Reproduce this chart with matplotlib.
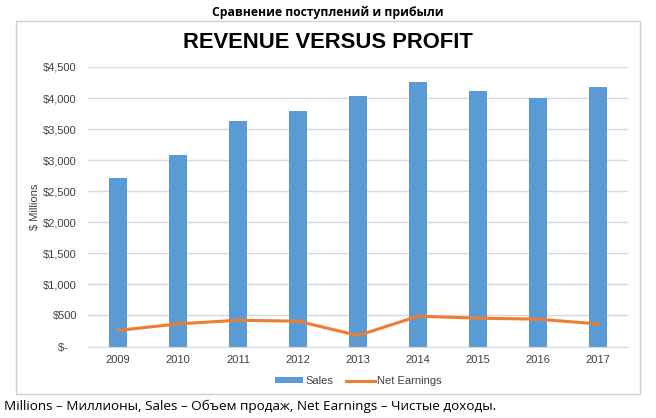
import matplotlib
matplotlib.use('Agg')
import matplotlib.pyplot as plt
from matplotlib.patches import Rectangle
from matplotlib.ticker import FuncFormatter
import numpy as np

# Data
years = ['2009', '2010', '2011', '2012', '2013', '2014', '2015', '2016', '2017']
sales = [2705, 3080, 3635, 3790, 4035, 4255, 4110, 4005, 4180]
net_earnings = [258, 364, 423, 407, 177, 488, 456, 440, 364]
y_ticks = [0, 500, 1000, 1500, 2000, 2500, 3000, 3500, 4000, 4500]

blue = '#5B9BD5'
orange = '#ED7D31'
grid = '#D9D9D9'
text_col = '#404040'

W, H = 656, 418
fig = plt.figure(figsize=(W / 100, H / 100), dpi=100)
fig.patch.set_facecolor('white')

# chart frame
fig.patches.append(Rectangle((16 / W, 1 - 394 / H), (639.5 - 16) / W, (394 - 20.5) / H,
                             transform=fig.transFigure, fill=False,
                             edgecolor='#D0D0D0', linewidth=1.0))

ax = fig.add_axes([88 / W, 1 - 346.5 / H, 540 / W, 279.5 / H])
x = np.arange(len(years))
bars = ax.bar(x, sales, width=0.3, color=blue, label='Sales', zorder=2)
line, = ax.plot(x, net_earnings, color=orange, linewidth=2.2, label='Net Earnings', zorder=3)

ax.set_xlim(-0.5, len(years) - 0.5)
ax.set_ylim(0, 4500)
ax.set_xticks(x)
ax.set_xticklabels(years)
ax.set_yticks(y_ticks)
ax.yaxis.set_major_formatter(FuncFormatter(lambda v, p: '$-   ' if v == 0 else '${:,.0f}'.format(v)))
ax.grid(axis='y', color=grid, linewidth=1.0, zorder=0)
ax.set_axisbelow(True)
for s in ['top', 'right', 'left']:
    ax.spines[s].set_visible(False)
ax.spines['bottom'].set_color(grid)
ax.tick_params(axis='both', length=0, labelsize=8, labelcolor=text_col)
ax.tick_params(axis='y', pad=8)
ax.tick_params(axis='x', pad=6)
for lab in ax.get_xticklabels() + ax.get_yticklabels():
    lab.set_family('Liberation Sans')
ax.set_ylabel('$ Millions', fontsize=8, family='Liberation Sans', color=text_col, labelpad=2)

leg = ax.legend([bars, line], ['Sales', 'Net Earnings'], loc='upper center',
                bbox_to_anchor=(0.5, -0.07), ncol=2, frameon=False,
                prop={'family': 'Liberation Sans', 'size': 8}, handlelength=2.6,
                handleheight=0.45, columnspacing=1.2, handletextpad=0.15)
for t in leg.get_texts():
    t.set_color(text_col)

fig.text(327.5 / W, 1 - 42 / H, 'REVENUE VERSUS PROFIT', ha='center', va='center',
         fontsize=15.8, fontweight='bold', family='Liberation Sans', color='black')
fig.text(328 / W, 1 - 12 / H, 'Сравнение поступлений и прибыли', ha='center', va='center',
         fontsize=8.7, fontweight='bold', family='Open Sans')
fig.text(4 / W, 1 - 406 / H, 'Millions – Миллионы, Sales – Объем продаж, Net Earnings – Чистые доходы.',
         ha='left', va='center', fontsize=9.7, family='Open Sans')

fig.savefig('out.png', dpi=100, facecolor='white')
